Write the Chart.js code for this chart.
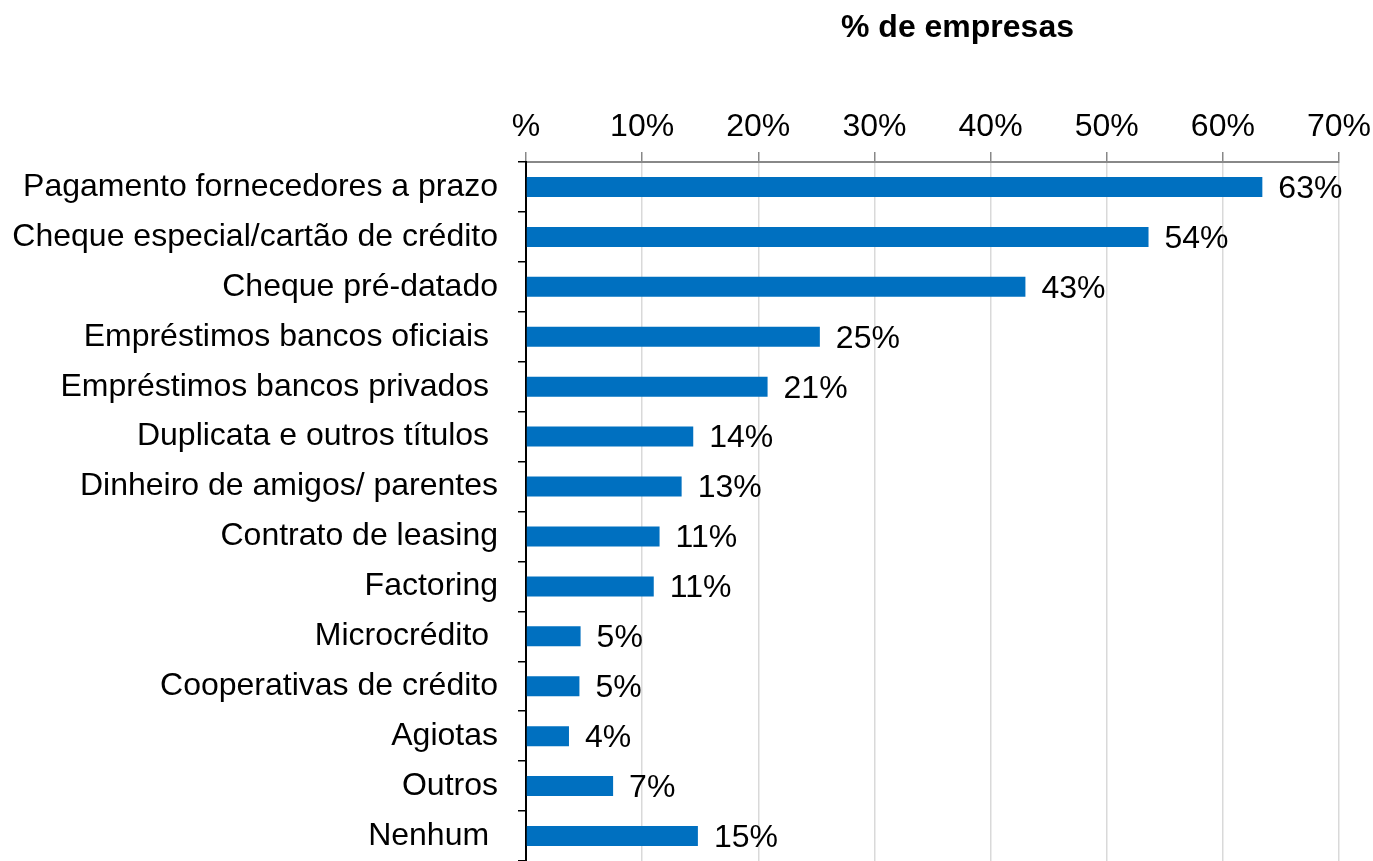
<!DOCTYPE html>
<html>
<head>
<meta charset="utf-8">
<script src="https://cdn.jsdelivr.net/npm/chart.js@4"></script>
<style>
  html, body { margin: 0; padding: 0; background: #fff; }
  #wrap { width: 1373px; height: 861px; }
</style>
</head>
<body>
<div id="wrap"><canvas id="financeChart" width="1373" height="861"></canvas></div>
<script>
const categories = [
    "Pagamento fornecedores a prazo", "Cheque especial/cartão de crédito", "Cheque pré-datado",
    "Empréstimos bancos oficiais ", "Empréstimos bancos privados ", "Duplicata e outros títulos ",
    "Dinheiro de amigos/ parentes", "Contrato de leasing", "Factoring", "Microcrédito ",
    "Cooperativas de crédito", "Agiotas", "Outros", "Nenhum "
];
const values = [63.4, 53.6, 43.0, 25.3, 20.8, 14.4, 13.4, 11.5, 11.0, 4.7, 4.6, 3.7, 7.5, 14.8];
const valueLabels = ["63%", "54%", "43%", "25%", "21%", "14%", "13%", "11%", "11%", "5%", "5%", "4%", "7%", "15%"];
const xTicks = [0, 10, 20, 30, 40, 50, 60, 70];

const FONT = "'Liberation Sans', Arial, sans-serif";

document.addEventListener("DOMContentLoaded", function () {
    const ctx = document.getElementById("financeChart").getContext("2d");

    // value labels at the end of each bar
    const barLabels = {
        id: "barLabels",
        afterDatasetsDraw(chart) {
            const c = chart.ctx;
            const meta = chart.getDatasetMeta(0);
            c.save();
            c.font = "32px " + FONT;
            c.fillStyle = "#000";
            c.textAlign = "left";
            c.textBaseline = "middle";
            meta.data.forEach(function (bar, i) {
                c.fillText(valueLabels[i], bar.x + 16, bar.y + 2);
            });
            c.restore();
        }
    };

    // axis title above the tick labels
    const axisTitle = {
        id: "axisTitle",
        afterDraw(chart) {
            const c = chart.ctx;
            const area = chart.chartArea;
            c.save();
            c.font = "bold 32px " + FONT;
            c.fillStyle = "#000";
            c.textAlign = "center";
            c.textBaseline = "middle";
            c.fillText("% de empresas", (area.left + area.right) / 2 + 25, 28);
            c.restore();
        }
    };

    new Chart(ctx, {
        type: "bar",
        data: {
            labels: categories,
            datasets: [{
                data: values,
                backgroundColor: "#0070C0",
                borderWidth: 0,
                categoryPercentage: 0.8,
                barPercentage: 0.5
            }]
        },
        options: {
            indexAxis: "y",
            responsive: false,
            animation: false,
            layout: { padding: { left: 0, right: 34, top: 0, bottom: 0 } },
            plugins: {
                legend: { display: false },
                tooltip: { enabled: false }
            },
            scales: {
                x: {
                    position: "top",
                    min: 0,
                    max: 70,
                    afterBuildTicks: function (scale) {
                        scale.ticks = xTicks.map(v => ({ value: v }));
                    },
                    afterFit: function (scale) {
                        scale.height = 162;
                        scale.paddingRight = 0;
                    },
                    ticks: {
                        color: "#000",
                        font: { family: FONT, size: 32 },
                        padding: 6,
                        maxRotation: 0,
                        callback: function (v) { return v === 0 ? "%" : v + "%"; }
                    },
                    grid: {
                        color: "#d9d9d9",
                        lineWidth: 1.5,
                        tickColor: "#888",
                        tickLength: 10
                    },
                    border: { color: "#888", width: 2 }
                },
                y: {
                    afterFit: function (scale) {
                        scale.width = 526;
                        scale.paddingTop = 0;
                        scale.paddingBottom = 0;
                    },
                    ticks: {
                        color: "#000",
                        font: { family: FONT, size: 32 },
                        padding: 20,
                        autoSkip: false
                    },
                    grid: {
                        offset: true,
                        drawOnChartArea: false,
                        tickColor: "#000",
                        tickLength: 8,
                        lineWidth: 1.5
                    },
                    border: { color: "#000", width: 2 }
                }
            }
        },
        plugins: [barLabels, axisTitle]
    });
});
</script>
</body>
</html>
